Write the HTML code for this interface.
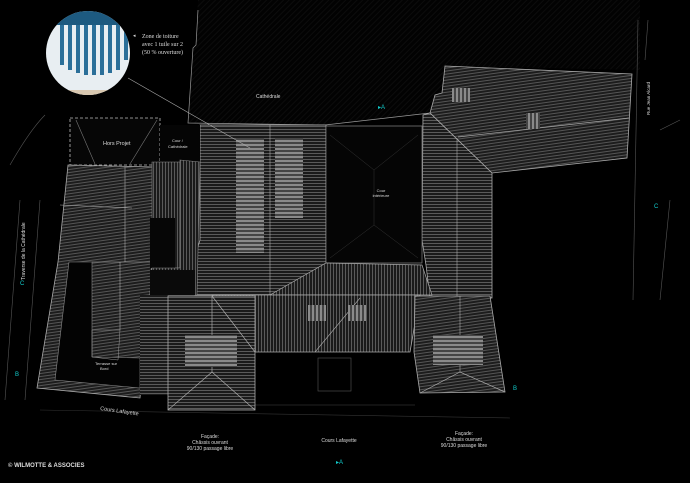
<!DOCTYPE html>
<html><head><meta charset="utf-8"><style>
html,body{margin:0;padding:0;background:#000;width:690px;height:483px;overflow:hidden}
svg{display:block}
text{font-family:"Liberation Sans",sans-serif;fill:#ddd}
text.cy{fill:#1cc}
</style></head><body>
<svg width="690" height="483" viewBox="0 0 690 483" xmlns="http://www.w3.org/2000/svg">
<defs>
<pattern id="h" width="4" height="3" patternUnits="userSpaceOnUse"><rect width="4" height="3" fill="#1a1a1a"/><rect width="4" height="1" fill="#5a5a5a"/></pattern>
<pattern id="v" width="3" height="4" patternUnits="userSpaceOnUse"><rect width="3" height="4" fill="#1a1a1a"/><rect width="1" height="4" fill="#5a5a5a"/></pattern>
<pattern id="d" width="3" height="3" patternUnits="userSpaceOnUse" patternTransform="rotate(-8)"><rect width="3" height="3" fill="#1c1c1c"/><rect width="3" height="1" fill="#555"/></pattern>
<pattern id="dd" width="4" height="4" patternUnits="userSpaceOnUse" patternTransform="rotate(45)"><rect width="4" height="4" fill="#020202"/><rect width="1" height="4" fill="#0c0c0c"/></pattern>
<pattern id="lt" width="4" height="4" patternUnits="userSpaceOnUse"><rect width="4" height="4" fill="#444"/><rect width="4" height="2" fill="#8a8a8a"/></pattern>
<pattern id="lv" width="4" height="4" patternUnits="userSpaceOnUse"><rect width="4" height="4" fill="#444"/><rect width="2" height="4" fill="#8a8a8a"/></pattern>
</defs>
<rect width="690" height="483" fill="#000"/>
<polygon points="198,0 640,0 640,70 445,66 442,93 435,95 430,113 325,125 188,123 193,48 196,45" fill="url(#dd)"/>
<polyline points="198,10 196,45 193,48 188,123 325,125 430,113" fill="none" stroke="#999" stroke-width="0.7"/>
<text x="256" y="98" font-size="5">Cathédrale</text>
<polygon points="445,66 632,74 627,158 492,173 430,113 435,95 442,93" fill="url(#d)" stroke="#aaa" stroke-width="0.8"/>
<line x1="458" y1="137" x2="629" y2="118" stroke="#aaa" stroke-width="0.7"/>
<rect x="452" y="88" width="18" height="14" fill="url(#lv)"/>
<rect x="526" y="113" width="14" height="16" fill="url(#lv)"/>
<polygon points="423,115 430,113 492,173 492,298 430,298 426,265 422,240" fill="url(#h)" stroke="#aaa" stroke-width="0.8"/>
<line x1="457" y1="138" x2="457" y2="298" stroke="#aaa" stroke-width="0.6"/>
<polygon points="200,125 326,125 326,295 195,295 197,250 200,240" fill="url(#h)" stroke="#aaa" stroke-width="0.8"/>
<line x1="270" y1="125" x2="270" y2="295" stroke="#aaa" stroke-width="0.6"/>
<rect x="236" y="138" width="28" height="115" fill="url(#lt)"/>
<rect x="275" y="138" width="28" height="80" fill="url(#lt)"/>
<rect x="326" y="126" width="96" height="137" fill="#050505" stroke="#888" stroke-width="0.7"/>
<g stroke="#333" stroke-width="0.5"><line x1="330" y1="135" x2="374" y2="170"/><line x1="418" y1="135" x2="374" y2="170"/><line x1="374" y1="170" x2="374" y2="225"/><line x1="330" y1="258" x2="374" y2="225"/><line x1="418" y1="258" x2="374" y2="225"/></g>
<text x="381" y="192" font-size="4" text-anchor="middle">Cour</text><text x="381" y="197" font-size="4" text-anchor="middle">intérieure</text>
<polygon points="326,263 422,265 432,295 270,295" fill="url(#v)" stroke="#aaa" stroke-width="0.7"/>
<rect x="70" y="118" width="90" height="47" fill="#060606" stroke="#bbb" stroke-width="0.8" stroke-dasharray="3,2"/>
<line x1="76" y1="120" x2="95" y2="164" stroke="#777" stroke-width="0.6"/><line x1="157" y1="120" x2="130" y2="164" stroke="#777" stroke-width="0.6"/>
<text x="103" y="145" font-size="5.5">Hors Projet</text>
<rect x="160" y="125" width="40" height="38" fill="#050505"/>
<text x="172" y="142" font-size="4">Cour /</text><text x="168" y="148" font-size="4">Cathédrale</text>
<polygon points="68,165 155,167 152,262 150,295 140,398 37,388 58,262" fill="url(#d)" stroke="#aaa" stroke-width="0.8"/>
<polygon points="69,262 92,262 92,357 140,358 140,388 55,380" fill="#030303" stroke="#888" stroke-width="0.6"/>
<line x1="125" y1="167" x2="125" y2="262" stroke="#aaa" stroke-width="0.6"/>
<line x1="60" y1="205" x2="132" y2="208" stroke="#aaa" stroke-width="0.6"/>
<line x1="92" y1="262" x2="152" y2="262" stroke="#aaa" stroke-width="0.6"/>
<line x1="120" y1="262" x2="120" y2="330" stroke="#aaa" stroke-width="0.6"/>
<polygon points="92,330 120,330 118,360 92,357" fill="none" stroke="#999" stroke-width="0.5"/>
<text x="95" y="365" font-size="4">Terrasse sur</text><text x="100" y="370" font-size="4">Bord</text>
<polygon points="152,162 180,162 180,268 152,268" fill="url(#v)" stroke="#888" stroke-width="0.6"/>
<rect x="150" y="218" width="25" height="50" fill="#060606"/>
<polygon points="180,160 200,162 197,295 150,295 152,268 180,268" fill="url(#v)" stroke="#888" stroke-width="0.6"/>
<rect x="150" y="270" width="45" height="25" fill="#0a0a0a"/>
<rect x="140" y="295" width="28" height="100" fill="url(#h)"/>
<polygon points="212,295 420,295 410,352 255,352" fill="url(#v)" stroke="#aaa" stroke-width="0.8"/>
<line x1="315" y1="352" x2="360" y2="298" stroke="#aaa" stroke-width="0.6"/>
<rect x="308" y="305" width="18" height="16" fill="url(#lv)"/>
<rect x="348" y="305" width="18" height="16" fill="url(#lv)"/>
<rect x="318" y="358" width="33" height="33" fill="none" stroke="#555" stroke-width="0.6"/>
<line x1="255" y1="405" x2="415" y2="405" stroke="#444" stroke-width="0.6"/>
<rect x="168" y="296" width="87" height="114" fill="url(#h)" stroke="#aaa" stroke-width="0.8"/>
<polyline points="168,410 212,372 255,410" fill="none" stroke="#aaa" stroke-width="0.7"/>
<line x1="212" y1="296" x2="212" y2="372" stroke="#aaa" stroke-width="0.7"/>
<line x1="212" y1="296" x2="255" y2="352" stroke="#aaa" stroke-width="0.7"/>
<rect x="185" y="335" width="52" height="32" fill="url(#lt)"/>
<polygon points="415,296 490,296 505,392 420,393 414,352" fill="url(#d)" stroke="#aaa" stroke-width="0.8"/>
<polyline points="420,393 460,372 505,392" fill="none" stroke="#aaa" stroke-width="0.7"/>
<line x1="460" y1="296" x2="460" y2="372" stroke="#aaa" stroke-width="0.6"/>
<rect x="433" y="335" width="50" height="30" fill="url(#lt)"/>
<g stroke="#555" stroke-width="0.6" fill="none">
<path d="M10,165 Q30,130 45,115"/><path d="M20,200 L5,400"/><path d="M40,200 L25,400"/>
<path d="M638,20 L633,300"/><path d="M648,20 L645,60"/><path d="M660,130 L680,120"/><path d="M660,300 L670,200"/>
<line x1="40" y1="410" x2="510" y2="418" stroke="#333"/>
</g>
<circle cx="88" cy="53" r="42" fill="#e8eef2"/>
<clipPath id="c"><circle cx="88" cy="53" r="42"/></clipPath>
<g clip-path="url(#c)">
<rect x="46" y="11" width="84" height="14" fill="#1d5a80"/>
<g fill="#2b6f99"><rect x="60" y="25" width="4" height="40"/><rect x="68" y="25" width="4" height="45"/><rect x="76" y="25" width="4" height="48"/><rect x="84" y="25" width="4" height="50"/><rect x="92" y="25" width="4" height="50"/><rect x="100" y="25" width="4" height="50"/><rect x="108" y="25" width="4" height="48"/><rect x="116" y="25" width="4" height="45"/><rect x="124" y="25" width="4" height="35"/></g>
<rect x="46" y="90" width="84" height="10" fill="#d9c8b0"/>
</g>
<line x1="128" y1="78" x2="250" y2="148" stroke="#aaa" stroke-width="0.6"/>
<text x="133" y="37" font-size="5" style="font-family:'Liberation Serif',serif">◂</text>
<text x="142" y="38" font-size="6" style="font-family:'Liberation Serif',serif">Zone de toiture</text>
<text x="142" y="46" font-size="6" style="font-family:'Liberation Serif',serif">avec 1 tuile sur 2</text>
<text x="142" y="54" font-size="6" style="font-family:'Liberation Serif',serif">(50 % ouverture)</text>
<text x="100" y="410" font-size="5.5" transform="rotate(8 100 410)">Cours Lafayette</text>
<text x="25" y="280" font-size="5" transform="rotate(-90 25 280)">Traverse de la Cathédrale</text>
<text x="650" y="115" font-size="4.5" transform="rotate(-90 650 115)">Rue Jean Alcard</text>
<text x="210" y="438" font-size="5" text-anchor="middle">Façade:</text>
<text x="210" y="444" font-size="5" text-anchor="middle">Châssis ouvrant</text>
<text x="210" y="450" font-size="5" text-anchor="middle">90/130 passage libre</text>
<text x="339" y="442" font-size="5" text-anchor="middle">Cours Lafayette</text>
<text x="464" y="435" font-size="5" text-anchor="middle">Façade:</text>
<text x="464" y="441" font-size="5" text-anchor="middle">Châssis ouvrant</text>
<text x="464" y="447" font-size="5" text-anchor="middle">90/130 passage libre</text>
<text x="8" y="467" font-size="6" style="font-weight:bold">© WILMOTTE &amp; ASSOCIES</text>
<g font-size="6"><text class="cy" x="378" y="109">▸A</text><text class="cy" x="336" y="464">▸A</text><text class="cy" x="20" y="285">C</text><text class="cy" x="654" y="208">C</text><text class="cy" x="15" y="376">B</text><text class="cy" x="513" y="390">B</text></g>
</svg>
</body></html>
